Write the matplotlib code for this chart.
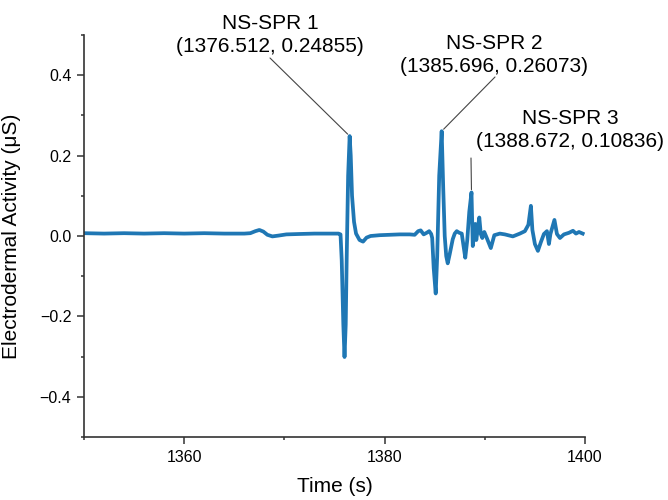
import matplotlib
matplotlib.use("Agg")
import matplotlib.pyplot as plt
from matplotlib.ticker import MultipleLocator

plt.rcParams["font.family"] = ["Liberation Sans", "DejaVu Sans"]

# --- EDA trace ---
time_s = [
    1350.0, 1352.0, 1354.0, 1356.0, 1358.0, 1360.0, 1362.0, 1364.0, 1366.0,
    1366.6, 1367.1, 1367.5, 1367.9, 1368.3, 1368.8, 1369.4, 1370.2, 1371.5,
    1373.0, 1374.5, 1375.4, 1375.6, 1375.72, 1375.88, 1376.0, 1376.12, 1376.22,
    1376.36, 1376.512, 1376.62, 1376.75, 1376.95, 1377.15, 1377.5, 1377.85,
    1378.2, 1378.6, 1379.5, 1380.5, 1381.5, 1382.5, 1383.0, 1383.35, 1383.6,
    1383.9, 1384.2, 1384.45, 1384.65, 1384.75, 1384.9, 1385.1, 1385.25,
    1385.45, 1385.696, 1385.85, 1386.0, 1386.15, 1386.3, 1386.5, 1386.8,
    1387.0, 1387.2, 1387.45, 1387.7, 1387.85, 1388.05, 1388.25, 1388.45,
    1388.672, 1388.8, 1388.95, 1389.05, 1389.15, 1389.45, 1389.6, 1389.75,
    1389.95, 1390.2, 1390.6, 1390.95, 1391.5, 1392.0, 1392.8, 1393.5, 1394.0,
    1394.35, 1394.6, 1394.75, 1395.0, 1395.3, 1395.6, 1395.9, 1396.2, 1396.4,
    1396.55, 1396.95, 1397.2, 1397.5, 1397.9, 1398.4, 1398.8, 1399.1, 1399.4,
    1399.77,
]
eda_us = [
    0.007, 0.006, 0.007, 0.006, 0.007, 0.006, 0.007, 0.006, 0.006,
    0.007, 0.012, 0.015, 0.011, 0.003, -0.001, 0.001, 0.004, 0.005,
    0.006, 0.006, 0.006, 0.004, -0.06, -0.22, -0.301, -0.22, -0.05,
    0.15, 0.24855, 0.20, 0.10, 0.035, 0.006, -0.010, -0.014,
    -0.004, 0.000, 0.002, 0.003, 0.004, 0.004, 0.003, 0.012, 0.014,
    0.004, 0.008, 0.012, 0.005, -0.005, -0.08, -0.143, -0.05,
    0.15, 0.26073, 0.12, 0.0, -0.05, -0.068, -0.045, -0.008,
    0.006, 0.012, 0.008, 0.006, -0.02, -0.054, -0.01, 0.06,
    0.10836, -0.025, 0.01, 0.03, -0.01, 0.046, 0.005, -0.005,
    0.010, -0.005, -0.030, 0.002, 0.006, 0.004, -0.001, 0.006, 0.012,
    0.028, 0.075, 0.015, -0.02, -0.037, -0.015, 0.005, 0.012, -0.02,
    0.005, 0.040, 0.005, -0.005, 0.004, 0.008, 0.013, 0.006, 0.010,
    0.006,
]

# annotated peaks
peak_labels = ["NS-SPR 1", "NS-SPR 2", "NS-SPR 3"]
peak_t = [1376.512, 1385.696, 1388.672]
peak_v = [0.24855, 0.26073, 0.10836]

# text centres and leader start points, figure pixels
text_pos = [(270, 465), (494, 445), (570, 370)]
leader_start = [(270, 442), (495, 423), (471, 342)]

fig = plt.figure(figsize=(6.68, 5.0), dpi=100)
ax = fig.add_axes([84 / 668, 63 / 500, 501 / 668, 402 / 500])

ax.plot(time_s, eda_us, color="#1f77b4", linewidth=2.7, solid_joinstyle="round")

ax.set_xlim(1350, 1400)
ax.set_ylim(-0.5, 0.5)
ax.xaxis.set_major_locator(MultipleLocator(20))
ax.xaxis.set_minor_locator(MultipleLocator(10))
ax.yaxis.set_major_locator(MultipleLocator(0.2))
ax.yaxis.set_minor_locator(MultipleLocator(0.1))
ax.yaxis.set_major_formatter(lambda v, p: f"{v:.1f}".replace("-", "\u2212"))

for side in ["top", "right"]:
    ax.spines[side].set_visible(False)
for side in ["left", "bottom"]:
    ax.spines[side].set_color("#333333")
    ax.spines[side].set_linewidth(1.2)

ax.tick_params(which="major", direction="out", length=5, width=1.1, color="#333333",
               labelsize=11.5, pad=4)
ax.tick_params(which="minor", direction="out", length=2.5, width=1.1, color="#333333")
ax.tick_params(axis="x", which="major", pad=4.5)

ax.set_xlabel("Time (s)", fontsize=15)
ax.set_ylabel("Electrodermal Activity (\u03bcS)", fontsize=15)
ax.xaxis.set_label_coords(0.5, -0.1)
ax.yaxis.set_label_coords(-0.125, 0.5)

for lab, t, v, (tx, ty), (lx, ly) in zip(peak_labels, peak_t, peak_v, text_pos, leader_start):
    fig.text(tx / 668, ty / 500, f"{lab}\n({t:.3f}, {v:.5f})", ha="center", va="center",
             fontsize=15, linespacing=1.25)
    ax.annotate("", xy=(t, v), xytext=(lx, ly), textcoords="figure pixels",
                annotation_clip=False,
                arrowprops=dict(arrowstyle="-", color="#444444", lw=0.8,
                                shrinkA=0, shrinkB=2))

fig.savefig("out.png", dpi=100)
